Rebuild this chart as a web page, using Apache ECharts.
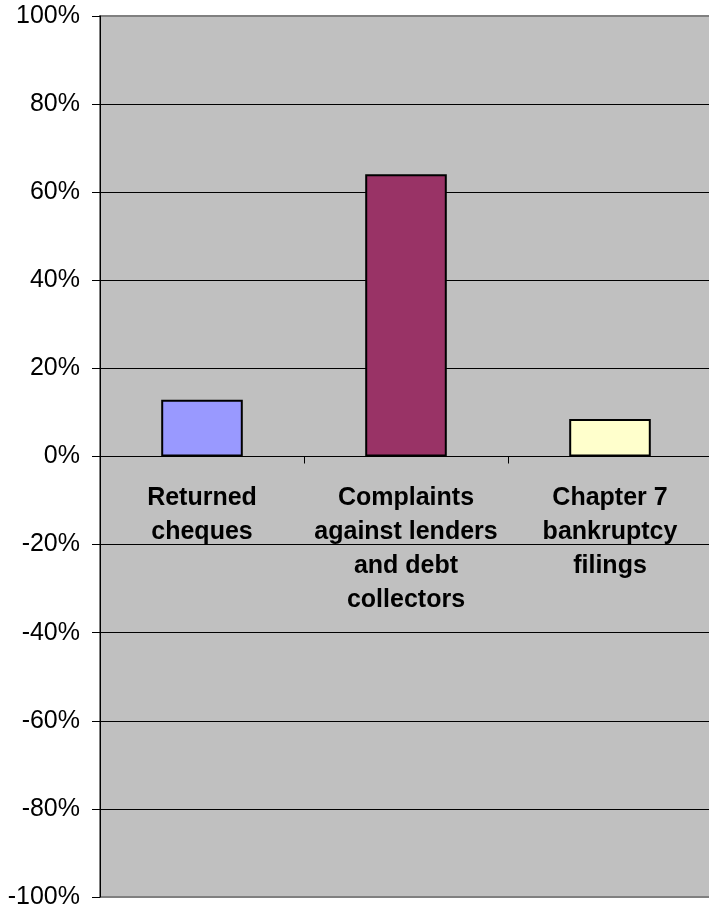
<!DOCTYPE html>
<html>
<head>
<meta charset="utf-8">
<script src="https://cdn.jsdelivr.net/npm/echarts@6/dist/echarts.min.js"></script>
<style>
  html, body { margin: 0; padding: 0; background: #ffffff; }
  #chart { width: 709px; height: 908px; }
</style>
</head>
<body>
<div id="chart"></div>
<script>
// Change indicators, shown as percentages
const categories = [
  'Returned\ncheques',
  'Complaints\nagainst lenders\nand debt\ncollectors',
  'Chapter 7\nbankruptcy\nfilings'
];
const values = [12.9, 64.1, 8.5];
const barColors = ['#9999FF', '#993366', '#FFFFCC'];

const yMin = -100;
const yMax = 100;
const yStep = 20;

const font = '"Liberation Sans", Arial, sans-serif';

const gridTop = 16;
const gridBottom = 11;
const chartHeight = 908;
const plotHeight = chartHeight - gridTop - gridBottom;
// move the category axis up from the plot bottom to the zero line
const zeroOffset = -plotHeight * (0 - yMin) / (yMax - yMin);

const chart = echarts.init(document.getElementById('chart'));
chart.setOption({
  animation: false,
  grid: {
    left: 100,
    top: gridTop,
    width: 612,
    bottom: gridBottom,
    outerBoundsMode: 'none',
    containLabel: false,
    show: true,
    backgroundColor: '#C0C0C0',
    borderColor: '#808080',
    borderWidth: 2
  },
  xAxis: {
    type: 'category',
    data: categories,
    position: 'bottom',
    offset: zeroOffset,
    axisLine: { show: true, onZero: false, lineStyle: { color: '#000', width: 1 } },
    axisTick: { show: true, inside: false, length: 7, alignWithLabel: false, lineStyle: { color: '#000' } },
    axisLabel: {
      interval: 0,
      margin: 25,
      color: '#000',
      fontFamily: font,
      fontWeight: 'bold',
      fontSize: 25,
      lineHeight: 34,
      align: 'center'
    },
    splitLine: { show: false }
  },
  yAxis: {
    type: 'value',
    min: yMin,
    max: yMax,
    interval: yStep,
    axisLine: { show: true, lineStyle: { color: '#000', width: 1 } },
    axisTick: { show: true, inside: false, length: 8, lineStyle: { color: '#000' } },
    axisLabel: {
      margin: 20,
      color: '#000',
      fontFamily: font,
      fontSize: 25,
      formatter: v => v + '%'
    },
    splitLine: {
      show: true,
      showMinLine: false,
      showMaxLine: false,
      lineStyle: { color: '#000', width: 1 }
    }
  },
  series: [{
    type: 'bar',
    barWidth: '40%',
    data: values.map((v, i) => ({
      value: v,
      itemStyle: { color: barColors[i], borderColor: '#000', borderWidth: 2 }
    }))
  }]
});
</script>
</body>
</html>
